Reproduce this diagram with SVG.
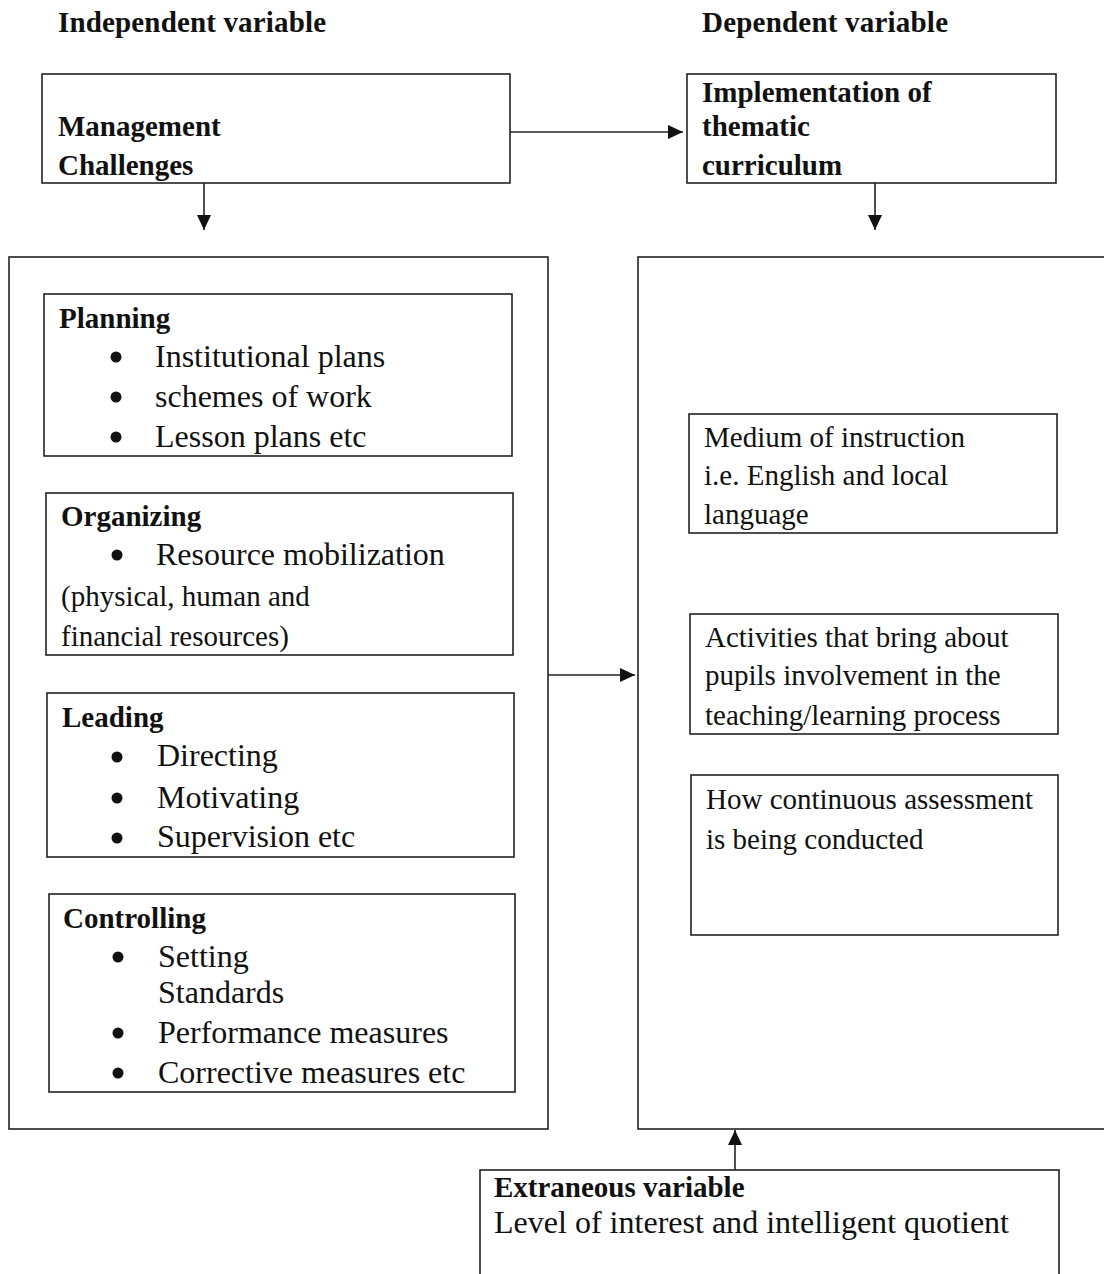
<svg xmlns="http://www.w3.org/2000/svg" width="1104" height="1274" viewBox="0 0 1104 1274">
<style>
  .box { fill: none; stroke: #222; stroke-width: 1.6; }
  .b { font-family: "Liberation Serif", "Times New Roman", serif; font-weight: bold; font-size: 29px; fill: #111; }
  .r { font-family: "Liberation Serif", "Times New Roman", serif; font-size: 29px; fill: #111; }
  .li { font-family: "Liberation Serif", "Times New Roman", serif; font-size: 32px; fill: #111; }
  .dot { fill: #111; }
  .conn { stroke: #222; stroke-width: 1.6; fill: none; }
</style>
<defs>
  <marker id="arr" markerUnits="userSpaceOnUse" markerWidth="16" markerHeight="14" refX="15" refY="7" orient="auto">
    <path d="M0,0 L15,7 L0,14 Z" fill="#111"/>
  </marker>
</defs>
<rect width="1104" height="1274" fill="#fff"/>

<text class="b" x="58" y="32" textLength="268" lengthAdjust="spacing">Independent variable</text>
<text class="b" x="702" y="32" textLength="246" lengthAdjust="spacing">Dependent variable</text>

<g id="management">
  <rect class="box" x="42" y="74" width="468" height="109"/>
  <text class="b" x="58" y="136">Management</text>
  <text class="b" x="58" y="175">Challenges</text>
</g>

<g id="implementation">
  <rect class="box" x="687" y="74" width="369" height="109"/>
  <text class="b" x="702" y="102">Implementation of</text>
  <text class="b" x="702" y="136">thematic</text>
  <text class="b" x="702" y="175">curriculum</text>
</g>

<g id="independent-panel">
  <rect class="box" x="9" y="257" width="539" height="872"/>
</g>

<g id="dependent-panel">
  <rect class="box" x="638" y="257" width="480" height="872"/>
</g>

<g id="planning">
  <rect class="box" x="44" y="294" width="468" height="162"/>
  <text class="b" x="59" y="328">Planning</text>
  <circle class="dot" cx="116" cy="357" r="5.5"/>
  <text class="li" x="155" y="367">Institutional plans</text>
  <circle class="dot" cx="116" cy="397" r="5.5"/>
  <text class="li" x="155" y="407">schemes of work</text>
  <circle class="dot" cx="116" cy="437" r="5.5"/>
  <text class="li" x="155" y="447">Lesson plans etc</text>
</g>

<g id="organizing">
  <rect class="box" x="46" y="493" width="467" height="162"/>
  <text class="b" x="61" y="526">Organizing</text>
  <circle class="dot" cx="117" cy="555" r="5.5"/>
  <text class="li" x="156" y="565">Resource mobilization</text>
  <text class="r" x="61" y="606">(physical, human and</text>
  <text class="r" x="61" y="646">financial resources)</text>
</g>

<g id="leading">
  <rect class="box" x="47" y="693" width="467" height="164"/>
  <text class="b" x="62" y="727">Leading</text>
  <circle class="dot" cx="117" cy="757" r="5.5"/>
  <text class="li" x="157" y="766">Directing</text>
  <circle class="dot" cx="117" cy="798" r="5.5"/>
  <text class="li" x="157" y="808">Motivating</text>
  <circle class="dot" cx="117" cy="838" r="5.5"/>
  <text class="li" x="157" y="847">Supervision etc</text>
</g>

<g id="controlling">
  <rect class="box" x="49" y="894" width="466" height="198"/>
  <text class="b" x="63" y="928">Controlling</text>
  <circle class="dot" cx="118" cy="957" r="5.5"/>
  <text class="li" x="158" y="967">Setting</text>
  <text class="li" x="158" y="1003">Standards</text>
  <circle class="dot" cx="118" cy="1033" r="5.5"/>
  <text class="li" x="158" y="1043">Performance measures</text>
  <circle class="dot" cx="118" cy="1073" r="5.5"/>
  <text class="li" x="158" y="1083">Corrective measures etc</text>
</g>

<g id="medium">
  <rect class="box" x="689" y="414" width="368" height="119"/>
  <text class="r" x="704" y="447">Medium of instruction</text>
  <text class="r" x="704" y="485">i.e. English and local</text>
  <text class="r" x="704" y="524">language</text>
</g>

<g id="activities">
  <rect class="box" x="690" y="614" width="368" height="120"/>
  <text class="r" x="705" y="647">Activities that bring about</text>
  <text class="r" x="705" y="685">pupils involvement in the</text>
  <text class="r" x="705" y="725">teaching/learning process</text>
</g>

<g id="assessment">
  <rect class="box" x="691" y="775" width="367" height="160"/>
  <text class="r" x="706" y="809">How continuous assessment</text>
  <text class="r" x="706" y="849">is being conducted</text>
</g>

<g id="extraneous">
  <rect class="box" x="480" y="1170" width="579" height="120"/>
  <text class="b" x="494" y="1197">Extraneous variable</text>
  <text class="li" x="494" y="1233" textLength="515" lengthAdjust="spacing">Level of interest and intelligent quotient</text>
</g>

<g id="connectors">
  <line class="conn" x1="510" y1="132" x2="683" y2="132" marker-end="url(#arr)"/>
  <line class="conn" x1="204" y1="183" x2="204" y2="230" marker-end="url(#arr)"/>
  <line class="conn" x1="875" y1="183" x2="875" y2="230" marker-end="url(#arr)"/>
  <line class="conn" x1="548" y1="675" x2="635" y2="675" marker-end="url(#arr)"/>
  <line class="conn" x1="735" y1="1170" x2="735" y2="1130" marker-end="url(#arr)"/>
</g>
</svg>
